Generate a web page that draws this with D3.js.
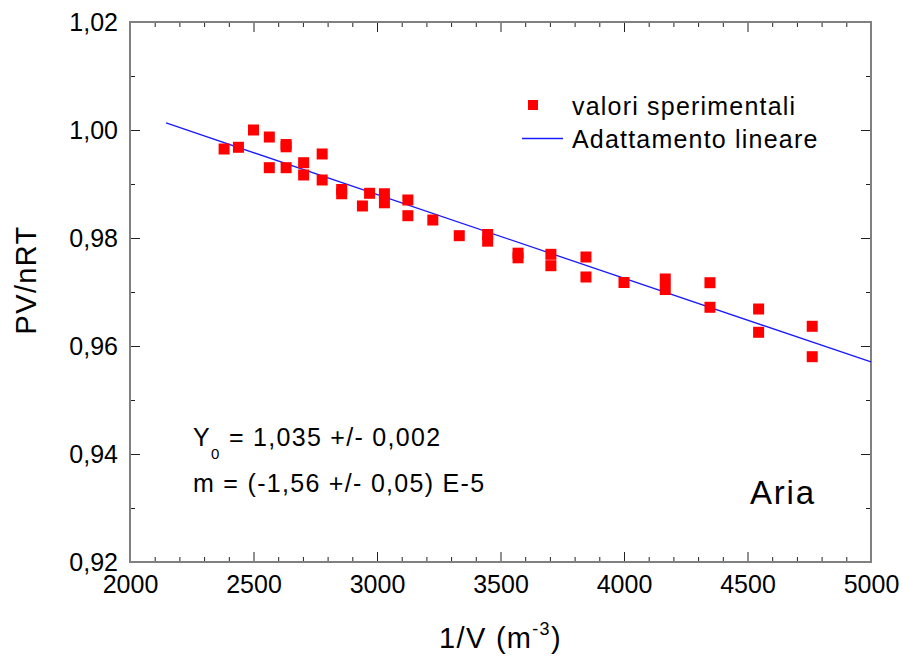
<!DOCTYPE html>
<html>
<head>
<meta charset="utf-8">
<script src="https://cdn.jsdelivr.net/npm/d3@7"></script>
<style>
  body { margin: 0; background: #fff; }
  text { font-family: "Liberation Sans", Arial, Helvetica, sans-serif; fill: #000; }
</style>
</head>
<body>
<svg id="chart"></svg>
<script>
const invV = [2381, 2439, 2500, 2564, 2564, 2632, 2632, 2632, 2703, 2703,
  2778, 2778, 2857, 2857, 2941, 2970, 3030, 3030, 3125, 3125,
  3226, 3333, 3448, 3448, 3571, 3571, 3704, 3704, 3846, 3846,
  4000, 4167, 4167, 4348, 4348, 4545, 4545, 4762, 4762];
const pvnrt = [0.99648, 0.99680, 1.00000, 0.99870, 0.99302, 0.99731, 0.99689, 0.99302, 0.99394, 0.99167,
  0.99556, 0.99074, 0.98898, 0.98819, 0.98593, 0.98828, 0.98819, 0.98652, 0.98704, 0.98413,
  0.98333, 0.98043, 0.98065, 0.97941, 0.97719, 0.97633, 0.97698, 0.97487, 0.97648, 0.97278,
  0.97176, 0.97241, 0.97046, 0.97172, 0.96717, 0.96685, 0.96254, 0.96365, 0.95802];

// linear fit, end points
const fitX = [2146, 5000];
const fitY = [1.0013, 0.95704];

const xMajor = [2000, 2500, 3000, 3500, 4000, 4500, 5000];
const yMajor = [0.92, 0.94, 0.96, 0.98, 1.00, 1.02];

const legendLabels = ['valori sperimentali', 'Adattamento lineare'];
const fitText = ['1,035 +/- 0,002', 'm = (-1,56 +/- 0,05) E-5'];
const sampleName = 'Aria';

const W = 903, H = 657;
const margin = {top: 22, right: 32, bottom: 95, left: 130};
const width = W - margin.left - margin.right;
const height = H - margin.top - margin.bottom;

const it = d3.formatLocale({decimal: ',', thousands: '.', grouping: [3], currency: ['', '€']});
const fmtY = it.format('.2f');

const svg = d3.select('#chart').attr('width', W).attr('height', H);
const g = svg.append('g').attr('transform', 'translate(' + margin.left + ',' + margin.top + ')');

const x = d3.scaleLinear().domain([2000, 5000]).range([0, width]);
const y = d3.scaleLinear().domain([0.92, 1.02]).range([height, 0]);

const xMinor = d3.range(2000, 5001, 100).filter(v => v % 500 !== 0);
const yMinor = d3.range(0.93, 1.02, 0.02);

// inward ticks on all four sides
function ticks(axis, sel) {
  sel.call(axis);
  sel.select('.domain').remove();
  sel.selectAll('.tick line').attr('stroke', '#222');
}
const tk = 10, tkm = 5;

ticks(d3.axisBottom(x).tickValues(xMinor).tickSize(-tkm).tickFormat(''),
  g.append('g').attr('transform', 'translate(0,' + height + ')'));
ticks(d3.axisTop(x).tickValues(xMinor).tickSize(-tkm).tickFormat(''), g.append('g'));
ticks(d3.axisTop(x).tickValues(xMajor).tickSize(-tk).tickFormat(''), g.append('g'));
ticks(d3.axisLeft(y).tickValues(yMinor).tickSize(-tkm).tickFormat(''), g.append('g'));
ticks(d3.axisRight(y).tickValues(yMinor).tickSize(-tkm).tickFormat(''),
  g.append('g').attr('transform', 'translate(' + width + ',0)'));
ticks(d3.axisRight(y).tickValues(yMajor).tickSize(-tk).tickFormat(''),
  g.append('g').attr('transform', 'translate(' + width + ',0)'));

const xAxis = g.append('g').attr('transform', 'translate(0,' + height + ')');
ticks(d3.axisBottom(x).tickValues(xMajor).tickSize(-tk).tickPadding(13).tickFormat(d3.format('d')), xAxis);
xAxis.selectAll('text').attr('font-size', 25).attr('fill', '#000')
  .attr('font-family', '"Liberation Sans", Arial, sans-serif');

const yAxis = g.append('g');
ticks(d3.axisLeft(y).tickValues(yMajor).tickSize(-tk).tickPadding(12).tickFormat(fmtY), yAxis);
yAxis.selectAll('text').attr('font-size', 25).attr('fill', '#000')
  .attr('font-family', '"Liberation Sans", Arial, sans-serif');

// frame
g.append('rect')
  .attr('width', width).attr('height', height)
  .attr('fill', 'none').attr('stroke', '#808080').attr('stroke-width', 2);

// fit line
g.append('path')
  .datum(fitX.map((v, i) => [v, fitY[i]]))
  .attr('d', d3.line().x(d => x(d[0])).y(d => y(d[1])))
  .attr('fill', 'none').attr('stroke', '#1a1aff').attr('stroke-width', 1.3);

// points
const sq = 11;
g.selectAll('rect.pt')
  .data(invV.map((v, i) => [v, pvnrt[i]]))
  .enter().append('rect')
  .attr('class', 'pt')
  .attr('x', d => x(d[0]) - sq / 2)
  .attr('y', d => y(d[1]) - sq / 2)
  .attr('width', sq).attr('height', sq)
  .attr('fill', '#ff0000');

// legend
const lg = svg.append('g');
lg.append('rect').attr('x', 528).attr('y', 100).attr('width', 10).attr('height', 10).attr('fill', '#ff0000');
lg.append('line').attr('x1', 522).attr('x2', 563).attr('y1', 138.5).attr('y2', 138.5)
  .attr('stroke', '#1a1aff').attr('stroke-width', 1.3);
lg.selectAll('text').data(legendLabels).enter().append('text')
  .attr('x', 572).attr('y', (d, i) => 115 + i * 33)
  .attr('font-size', 25).attr('letter-spacing', 1.2)
  .text(d => d);

// fit results
const t0 = svg.append('text').attr('x', 193).attr('y', 446).attr('font-size', 25).attr('letter-spacing', 1.3);
t0.append('tspan').text('Y');
t0.append('tspan').attr('font-size', 15).attr('dy', 13).attr('dx', 0).text('0');
t0.append('tspan').attr('dy', -13).text(' = ' + fitText[0]);
svg.append('text').attr('x', 193).attr('y', 492).attr('font-size', 25).attr('letter-spacing', 1.3)
  .text(fitText[1]);

svg.append('text').attr('x', 750).attr('y', 504).attr('font-size', 33).attr('letter-spacing', 1.8)
  .text(sampleName);

// axis titles
const xt = svg.append('text').attr('x', margin.left + width / 2).attr('y', 648)
  .attr('text-anchor', 'middle').attr('font-size', 29).attr('letter-spacing', 1.3);
xt.append('tspan').text('1/V (m');
xt.append('tspan').attr('font-size', 18).attr('dy', -13).text('-3');
xt.append('tspan').attr('dy', 13).text(')');

svg.append('text')
  .attr('transform', 'translate(36,' + (margin.top + height / 2 - 12) + ') rotate(-90)')
  .attr('text-anchor', 'middle').attr('font-size', 29).attr('letter-spacing', 1.3)
  .text('PV/nRT');
</script>
</body>
</html>
